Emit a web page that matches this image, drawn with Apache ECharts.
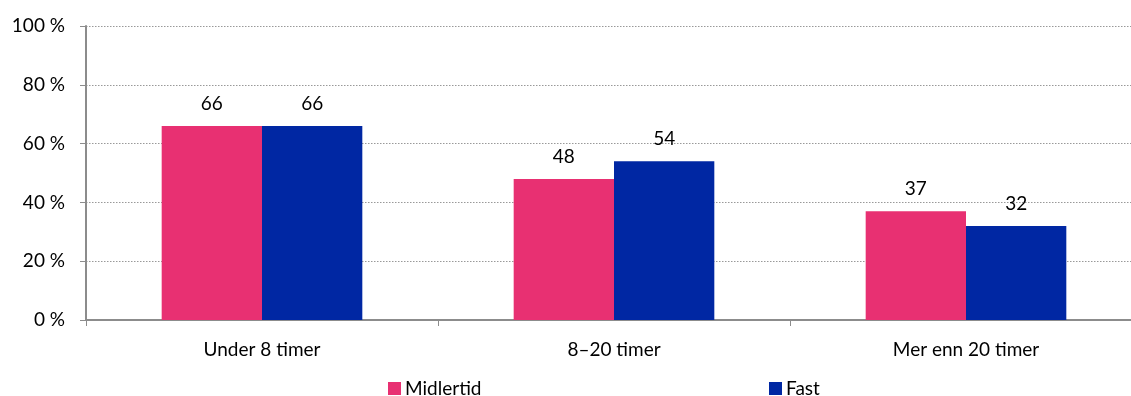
<!DOCTYPE html>
<html><head><meta charset="utf-8">
<script src="https://cdn.jsdelivr.net/npm/echarts@6/dist/echarts.min.js"></script>
<style>html,body{margin:0;padding:0;background:#fff;overflow:hidden}#c{width:1142px;height:396px}</style>
</head><body><div id="c"></div>
<script>
const categories = ["Under 8 timer", "8–20 timer", "Mer enn 20 timer"];
const seriesNames = ["Midlertid", "Fast"];
const midlertid = [66, 48, 37];
const fast = [66, 54, 32];
const yTicks = [0, 20, 40, 60, 80, 100];

const font = "Lato, 'Open Sans', sans-serif";
const fs = 19;
const chart = echarts.init(document.getElementById('c'));
const labelStyle = {show: true, position: 'top', distance: 13, color: '#000', fontSize: fs, fontFamily: font};
chart.setOption({
  animation: false,
  textStyle: {fontFamily: font},
  grid: {left: 86, right: 0, top: 26, bottom: 76, containLabel: false},
  legend: [
    {data: [seriesNames[0]], left: 383, top: 374, icon: 'rect', itemWidth: 13, itemHeight: 13, itemGap: 5,
     textStyle: {fontSize: fs, color: '#000', fontFamily: font, padding: [0,0,0,-1]}},
    {data: [seriesNames[1]], left: 764, top: 374, icon: 'rect', itemWidth: 13, itemHeight: 13, itemGap: 5,
     textStyle: {fontSize: fs, color: '#000', fontFamily: font, padding: [0,0,0,-1]}}
  ],
  xAxis: {
    type: 'category', data: categories,
    axisLine: {lineStyle: {color: '#8c8c8c', width: 2}},
    axisTick: {show: true, length: 6, lineStyle: {color: '#8c8c8c', width: 1}},
    axisLabel: {color: '#000', fontSize: fs, fontFamily: font, margin: 20}
  },
  yAxis: {
    type: 'value', min: yTicks[0], max: yTicks[yTicks.length-1], interval: 20,
    axisLine: {show: true, lineStyle: {color: '#8c8c8c', width: 2}},
    axisTick: {show: true, length: 6, lineStyle: {color: '#8c8c8c', width: 1}},
    splitLine: {lineStyle: {color: '#999', type: [1.5, 1.5], width: 1}},
    axisLabel: {color: '#000', fontSize: fs, fontFamily: font, margin: 21, formatter: v => v + ' %'}
  },
  series: [
    {name: seriesNames[0], type: 'bar', data: midlertid, barGap: '0%', barCategoryGap: '43%',
     itemStyle: {color: '#E83072'}, label: labelStyle},
    {name: seriesNames[1], type: 'bar', data: fast, barGap: '0%', barCategoryGap: '43%',
     itemStyle: {color: '#0027A3'}, label: labelStyle}
  ]
});
</script></body></html>
